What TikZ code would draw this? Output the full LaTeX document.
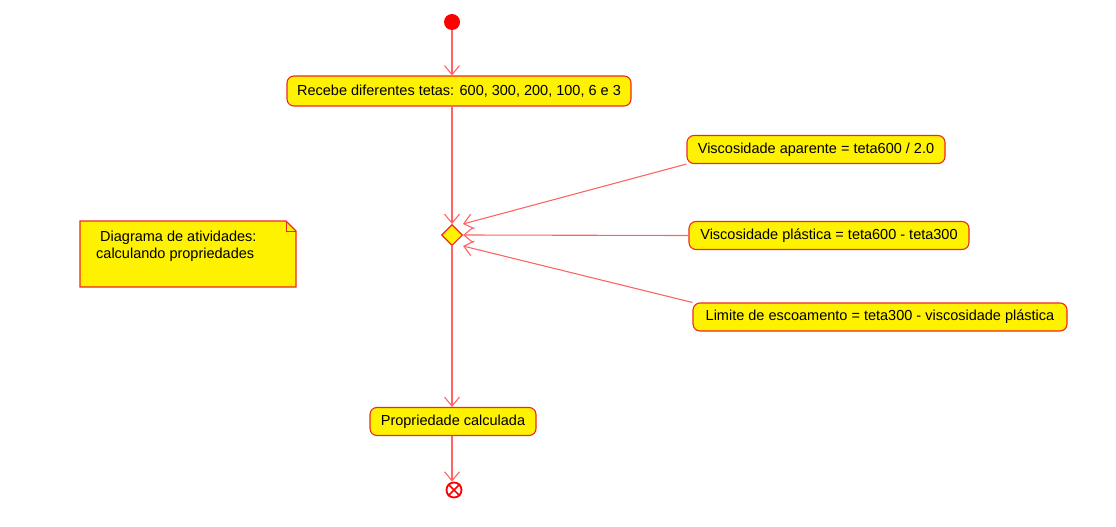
\documentclass[tikz,border=0pt]{standalone}
\usepackage{fontspec}
\setmainfont{Liberation Sans}
\usetikzlibrary{arrows.meta,shapes.geometric}
\definecolor{ln}{RGB}{255,100,100}
\definecolor{bd}{RGB}{240,40,30}
\begin{document}
\begin{tikzpicture}[x=1pt,y=-1pt, font=\fontsize{14.5}{17}\selectfont,
  act/.style={draw=bd, fill=yellow, rounded corners=7pt, line width=1.1pt, minimum height=28pt, inner sep=0pt, text=black},
  conn/.style={draw=ln, line width=1.1pt, -{Straight Barb[length=9pt,width=15pt]}}]
\useasboundingbox (0,0) rectangle (1116,527);
\node[circle, fill=red, minimum size=16pt, inner sep=0pt] (start) at (452,22) {};
\node[act, minimum width=344pt, minimum height=30pt] (b1) at (459,91) {Recebe diferentes tetas: 600, 300, 200, 100, 6 e 3};
\node[diamond, aspect=1, draw=bd, fill=yellow, line width=1.1pt, minimum width=21pt, minimum height=21pt, inner sep=0pt] (d) at (452,235) {};
\node[act, minimum width=258pt] (va) at (816,149.5) {Viscosidade aparente = teta600 / 2.0};
\node[act, minimum width=280pt] (vp) at (829,235.5) {Viscosidade plástica = teta600 - teta300};
\node[act, minimum width=374pt] (lim) at (880,317) {Limite de escoamento = teta300 - viscosidade plástica};
\node[act, minimum width=166pt] (pc) at (453,421.5) {Propriedade calculada};
\node[circle, draw=red, line width=1.8pt, fill=white, minimum size=15pt, inner sep=0pt] (end) at (454,490) {};
\draw[red, line width=1.6pt] (end.north west) -- (end.south east) (end.north east) -- (end.south west);
% note
\draw[draw=bd, fill=yellow, line width=1.1pt] (80,221) -- (286,221) -- (296,231) -- (296,287) -- (80,287) -- cycle;
\draw[draw=bd, line width=0.6pt] (286,221) -- (286,231) -- (296,231);
\node[align=left, anchor=north west, inner sep=0pt] (note) at (96,231) {\hspace{4pt}Diagrama de atividades:\\calculando propriedades};
% connectors
\coordinate (t1) at (463,224);
\coordinate (t3) at (463,246);
\draw[conn] (start) -- (start |- b1.north);
\draw[conn] (b1.south -| d) -- (d.north);
\draw[conn] (va.south west) -- (t1);
\draw[conn] (vp.west) -- (d.east);
\draw[conn] (lim.north west) -- (t3);
\draw[conn] (d.south) -- (d.south |- pc.north);
\draw[conn] (pc.south -| d) -- (d |- end.north);
\end{tikzpicture}
\end{document}
